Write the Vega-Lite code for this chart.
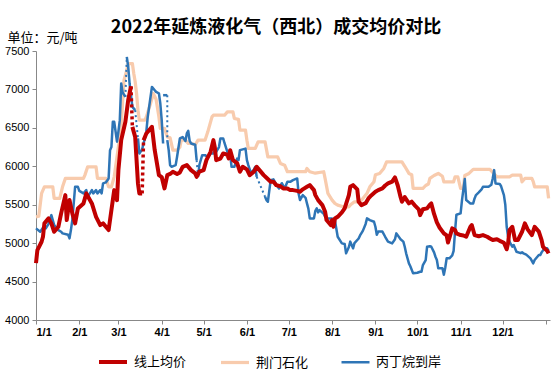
{
"$schema": "https://vega.github.io/schema/vega-lite/v6.json",
"width": 514, "height": 269,
"autosize": "none",
"padding": {"left": 36, "top": 51, "right": 2, "bottom": 56},
"title": {"text": "2022年延炼液化气（西北）成交均价对比", "fontSize": 18, "font": "Noto Sans CJK SC", "fontWeight": "bold", "color": "#000", "anchor": "middle", "frame": "group", "dx": -17, "dy": 26, "offset": 20},
"config": {
  "view": {"stroke": null},
  "font": "Noto Sans CJK SC",
  "legend": {"orient": "none", "legendX": 61, "legendY": 295, "direction": "horizontal", "symbolType": "stroke", "symbolSize": 784, "labelFontSize": 13, "labelFont": "Noto Sans CJK SC", "labelColor": "#000", "columnPadding": 27, "labelOffset": 5, "title": null}
},
"datasets": {
"lines": [
{"s":"线上均价","d":"2022-01-01","v":4740,"p":1},{"s":"线上均价","d":"2022-01-02","v":4910,"p":1},{"s":"线上均价","d":"2022-01-05","v":5018,"p":1},{"s":"线上均价","d":"2022-01-06","v":5083,"p":1},{"s":"线上均价","d":"2022-01-07","v":5257,"p":1},{"s":"线上均价","d":"2022-01-10","v":5322,"p":1},{"s":"线上均价","d":"2022-01-12","v":5257,"p":1},{"s":"线上均价","d":"2022-01-14","v":5148,"p":1},{"s":"线上均价","d":"2022-01-17","v":5213,"p":1},{"s":"线上均价","d":"2022-01-19","v":5387,"p":1},{"s":"线上均价","d":"2022-01-22","v":5625,"p":1},{"s":"线上均价","d":"2022-01-23","v":5300,"p":1},{"s":"线上均价","d":"2022-01-25","v":5560,"p":1},{"s":"线上均价","d":"2022-01-27","v":5387,"p":1},{"s":"线上均价","d":"2022-01-29","v":5257,"p":1},{"s":"线上均价","d":"2022-01-31","v":5452,"p":1},{"s":"线上均价","d":"2022-02-04","v":5517,"p":1},{"s":"线上均价","d":"2022-02-06","v":5647,"p":1},{"s":"线上均价","d":"2022-02-10","v":5517,"p":1},{"s":"线上均价","d":"2022-02-13","v":5343,"p":1},{"s":"线上均价","d":"2022-02-16","v":5235,"p":1},{"s":"线上均价","d":"2022-02-18","v":5257,"p":1},{"s":"线上均价","d":"2022-02-22","v":5170,"p":1},{"s":"线上均价","d":"2022-02-24","v":5430,"p":1},{"s":"线上均价","d":"2022-02-26","v":5690,"p":1},{"s":"线上均价","d":"2022-02-28","v":5560,"p":1},{"s":"线上均价","d":"2022-03-01","v":5950,"p":1},{"s":"线上均价","d":"2022-03-03","v":6340,"p":1},{"s":"线上均价","d":"2022-03-06","v":6580,"p":1},{"s":"线上均价","d":"2022-03-08","v":6860,"p":1},{"s":"线上均价","d":"2022-03-10","v":7040,"p":1},
{"s":"线上均价","d":"2022-03-11","v":6513,"p":2},{"s":"线上均价","d":"2022-03-13","v":6383,"p":2},{"s":"线上均价","d":"2022-03-14","v":6080,"p":2},{"s":"线上均价","d":"2022-03-15","v":5777,"p":2},{"s":"线上均价","d":"2022-03-16","v":5647,"p":2},{"s":"线上均价","d":"2022-03-18","v":5647,"p":2},
{"s":"线上均价","d":"2022-03-19","v":6340,"p":3},{"s":"线上均价","d":"2022-03-21","v":6427,"p":3},{"s":"线上均价","d":"2022-03-25","v":6513,"p":3},{"s":"线上均价","d":"2022-03-27","v":6210,"p":3},{"s":"线上均价","d":"2022-03-30","v":5885,"p":3},{"s":"线上均价","d":"2022-04-01","v":5860,"p":3},{"s":"线上均价","d":"2022-04-03","v":5712,"p":3},{"s":"线上均价","d":"2022-04-05","v":5885,"p":3},{"s":"线上均价","d":"2022-04-07","v":5900,"p":3},{"s":"线上均价","d":"2022-04-09","v":5929,"p":3},{"s":"线上均价","d":"2022-04-12","v":5900,"p":3},{"s":"线上均价","d":"2022-04-14","v":5920,"p":3},{"s":"线上均价","d":"2022-04-16","v":5993,"p":3},{"s":"线上均价","d":"2022-04-19","v":6015,"p":3},{"s":"线上均价","d":"2022-04-22","v":5950,"p":3},{"s":"线上均价","d":"2022-04-25","v":5907,"p":3},{"s":"线上均价","d":"2022-04-26","v":5863,"p":3},{"s":"线上均价","d":"2022-04-28","v":5930,"p":3},{"s":"线上均价","d":"2022-05-01","v":5950,"p":3},{"s":"线上均价","d":"2022-05-03","v":6080,"p":3},{"s":"线上均价","d":"2022-05-06","v":6188,"p":3},{"s":"线上均价","d":"2022-05-08","v":6340,"p":3},{"s":"线上均价","d":"2022-05-09","v":6250,"p":3},{"s":"线上均价","d":"2022-05-10","v":6080,"p":3},{"s":"线上均价","d":"2022-05-13","v":6100,"p":3},{"s":"线上均价","d":"2022-05-15","v":6167,"p":3},{"s":"线上均价","d":"2022-05-18","v":6150,"p":3},{"s":"线上均价","d":"2022-05-19","v":6102,"p":3},{"s":"线上均价","d":"2022-05-20","v":6210,"p":3},{"s":"线上均价","d":"2022-05-22","v":6080,"p":3},{"s":"线上均价","d":"2022-05-25","v":6040,"p":3},{"s":"线上均价","d":"2022-05-27","v":5929,"p":3},{"s":"线上均价","d":"2022-05-29","v":5993,"p":3},{"s":"线上均价","d":"2022-06-01","v":5960,"p":3},{"s":"线上均价","d":"2022-06-03","v":5885,"p":3},{"s":"线上均价","d":"2022-06-06","v":5930,"p":3},{"s":"线上均价","d":"2022-06-08","v":5993,"p":3},{"s":"线上均价","d":"2022-06-10","v":5950,"p":3},{"s":"线上均价","d":"2022-06-13","v":5885,"p":3},{"s":"线上均价","d":"2022-06-15","v":5850,"p":3},{"s":"线上均价","d":"2022-06-18","v":5798,"p":3},{"s":"线上均价","d":"2022-06-20","v":5798,"p":3},{"s":"线上均价","d":"2022-06-22","v":5755,"p":3},{"s":"线上均价","d":"2022-06-25","v":5740,"p":3},{"s":"线上均价","d":"2022-06-27","v":5712,"p":3},{"s":"线上均价","d":"2022-06-30","v":5712,"p":3},{"s":"线上均价","d":"2022-07-02","v":5690,"p":3},{"s":"线上均价","d":"2022-07-04","v":5690,"p":3},{"s":"线上均价","d":"2022-07-07","v":5680,"p":3},{"s":"线上均价","d":"2022-07-09","v":5668,"p":3},{"s":"线上均价","d":"2022-07-11","v":5700,"p":3},{"s":"线上均价","d":"2022-07-14","v":5733,"p":3},{"s":"线上均价","d":"2022-07-16","v":5755,"p":3},{"s":"线上均价","d":"2022-07-19","v":5690,"p":3},{"s":"线上均价","d":"2022-07-20","v":5625,"p":3},{"s":"线上均价","d":"2022-07-22","v":5560,"p":3},{"s":"线上均价","d":"2022-07-25","v":5495,"p":3},{"s":"线上均价","d":"2022-07-27","v":5408,"p":3},{"s":"线上均价","d":"2022-07-28","v":5300,"p":3},{"s":"线上均价","d":"2022-07-31","v":5235,"p":3},{"s":"线上均价","d":"2022-08-01","v":5300,"p":3},{"s":"线上均价","d":"2022-08-02","v":5213,"p":3},{"s":"线上均价","d":"2022-08-03","v":5320,"p":3},{"s":"线上均价","d":"2022-08-05","v":5343,"p":3},{"s":"线上均价","d":"2022-08-08","v":5400,"p":3},{"s":"线上均价","d":"2022-08-10","v":5452,"p":3},{"s":"线上均价","d":"2022-08-13","v":5625,"p":3},{"s":"线上均价","d":"2022-08-14","v":5733,"p":3},{"s":"线上均价","d":"2022-08-16","v":5755,"p":3},{"s":"线上均价","d":"2022-08-19","v":5700,"p":3},{"s":"线上均价","d":"2022-08-20","v":5538,"p":3},{"s":"线上均价","d":"2022-08-22","v":5495,"p":3},{"s":"线上均价","d":"2022-08-25","v":5520,"p":3},{"s":"线上均价","d":"2022-08-27","v":5582,"p":3},{"s":"线上均价","d":"2022-08-29","v":5620,"p":3},{"s":"线上均价","d":"2022-09-01","v":5668,"p":3},{"s":"线上均价","d":"2022-09-03","v":5690,"p":3},{"s":"线上均价","d":"2022-09-06","v":5712,"p":3},{"s":"线上均价","d":"2022-09-08","v":5750,"p":3},{"s":"线上均价","d":"2022-09-10","v":5777,"p":3},{"s":"线上均价","d":"2022-09-13","v":5800,"p":3},{"s":"线上均价","d":"2022-09-15","v":5855,"p":3},{"s":"线上均价","d":"2022-09-17","v":5750,"p":3},{"s":"线上均价","d":"2022-09-19","v":5600,"p":3},{"s":"线上均价","d":"2022-09-20","v":5538,"p":3},{"s":"线上均价","d":"2022-09-22","v":5600,"p":3},{"s":"线上均价","d":"2022-09-25","v":5517,"p":3},{"s":"线上均价","d":"2022-09-27","v":5540,"p":3},{"s":"线上均价","d":"2022-09-29","v":5495,"p":3},{"s":"线上均价","d":"2022-10-02","v":5440,"p":3},{"s":"线上均价","d":"2022-10-03","v":5365,"p":3},{"s":"线上均价","d":"2022-10-05","v":5440,"p":3},{"s":"线上均价","d":"2022-10-08","v":5452,"p":3},{"s":"线上均价","d":"2022-10-10","v":5500,"p":3},{"s":"线上均价","d":"2022-10-11","v":5517,"p":3},{"s":"线上均价","d":"2022-10-13","v":5380,"p":3},{"s":"线上均价","d":"2022-10-15","v":5270,"p":3},{"s":"线上均价","d":"2022-10-17","v":5200,"p":3},{"s":"线上均价","d":"2022-10-20","v":5127,"p":3},{"s":"线上均价","d":"2022-10-22","v":5100,"p":3},{"s":"线上均价","d":"2022-10-23","v":5008,"p":3},{"s":"线上均价","d":"2022-10-26","v":5192,"p":3},{"s":"线上均价","d":"2022-10-28","v":5170,"p":3},{"s":"线上均价","d":"2022-10-29","v":5127,"p":3},{"s":"线上均价","d":"2022-11-01","v":5105,"p":3},{"s":"线上均价","d":"2022-11-03","v":5100,"p":3},{"s":"线上均价","d":"2022-11-05","v":5083,"p":3},{"s":"线上均价","d":"2022-11-08","v":5213,"p":3},{"s":"线上均价","d":"2022-11-09","v":5235,"p":3},{"s":"线上均价","d":"2022-11-11","v":5105,"p":3},{"s":"线上均价","d":"2022-11-14","v":5090,"p":3},{"s":"线上均价","d":"2022-11-17","v":5105,"p":3},{"s":"线上均价","d":"2022-11-20","v":5083,"p":3},{"s":"线上均价","d":"2022-11-22","v":5060,"p":3},{"s":"线上均价","d":"2022-11-24","v":5040,"p":3},{"s":"线上均价","d":"2022-11-27","v":5050,"p":3},{"s":"线上均价","d":"2022-11-29","v":5030,"p":3},{"s":"线上均价","d":"2022-12-02","v":5005,"p":3},{"s":"线上均价","d":"2022-12-04","v":4920,"p":3},{"s":"线上均价","d":"2022-12-05","v":5000,"p":3},{"s":"线上均价","d":"2022-12-06","v":5170,"p":3},{"s":"线上均价","d":"2022-12-08","v":5213,"p":3},{"s":"线上均价","d":"2022-12-10","v":5040,"p":3},{"s":"线上均价","d":"2022-12-12","v":5040,"p":3},{"s":"线上均价","d":"2022-12-15","v":5148,"p":3},{"s":"线上均价","d":"2022-12-17","v":5257,"p":3},{"s":"线上均价","d":"2022-12-19","v":5180,"p":3},{"s":"线上均价","d":"2022-12-22","v":5105,"p":3},{"s":"线上均价","d":"2022-12-24","v":5213,"p":3},{"s":"线上均价","d":"2022-12-27","v":5150,"p":3},{"s":"线上均价","d":"2022-12-29","v":5040,"p":3},{"s":"线上均价","d":"2022-12-30","v":4953,"p":3},{"s":"线上均价","d":"2022-12-31","v":4932,"p":3},{"s":"线上均价","d":"2023-01-02","v":4900,"p":3},{"s":"线上均价","d":"2023-01-03","v":4867,"p":3},
{"s":"荆门石化","d":"2022-01-01","v":5343,"p":1},{"s":"荆门石化","d":"2022-01-03","v":5350,"p":1},{"s":"荆门石化","d":"2022-01-05","v":5647,"p":1},{"s":"荆门石化","d":"2022-01-07","v":5733,"p":1},{"s":"荆门石化","d":"2022-01-13","v":5733,"p":1},{"s":"荆门石化","d":"2022-01-14","v":5582,"p":1},{"s":"荆门石化","d":"2022-01-18","v":5582,"p":1},{"s":"荆门石化","d":"2022-01-20","v":5733,"p":1},{"s":"荆门石化","d":"2022-01-22","v":5842,"p":1},{"s":"荆门石化","d":"2022-02-04","v":5842,"p":1},{"s":"荆门石化","d":"2022-02-05","v":5885,"p":1},{"s":"荆门石化","d":"2022-02-07","v":5993,"p":1},{"s":"荆门石化","d":"2022-02-13","v":5993,"p":1},{"s":"荆门石化","d":"2022-02-14","v":5842,"p":1},{"s":"荆门石化","d":"2022-02-20","v":5842,"p":1},{"s":"荆门石化","d":"2022-02-22","v":5733,"p":1},{"s":"荆门石化","d":"2022-02-24","v":5733,"p":1},{"s":"荆门石化","d":"2022-02-26","v":5863,"p":1},{"s":"荆门石化","d":"2022-03-01","v":6253,"p":1},{"s":"荆门石化","d":"2022-03-03","v":6513,"p":1},{"s":"荆门石化","d":"2022-03-04","v":6838,"p":1},{"s":"荆门石化","d":"2022-03-05","v":7120,"p":1},{"s":"荆门石化","d":"2022-03-07","v":7250,"p":1},{"s":"荆门石化","d":"2022-03-08","v":7337,"p":1},{"s":"荆门石化","d":"2022-03-11","v":7337,"p":1},{"s":"荆门石化","d":"2022-03-12","v":7207,"p":1},{"s":"荆门石化","d":"2022-03-13","v":7100,"p":1},{"s":"荆门石化","d":"2022-03-14","v":6947,"p":1},{"s":"荆门石化","d":"2022-03-15","v":6730,"p":1},{"s":"荆门石化","d":"2022-03-16","v":6600,"p":1},{"s":"荆门石化","d":"2022-03-20","v":6600,"p":1},{"s":"荆门石化","d":"2022-03-21","v":6643,"p":1},{"s":"荆门石化","d":"2022-03-24","v":6817,"p":1},{"s":"荆门石化","d":"2022-03-26","v":6947,"p":1},{"s":"荆门石化","d":"2022-03-28","v":6870,"p":1},{"s":"荆门石化","d":"2022-03-30","v":6643,"p":1},{"s":"荆门石化","d":"2022-03-31","v":6492,"p":1},{"s":"荆门石化","d":"2022-04-03","v":6492,"p":1},{"s":"荆门石化","d":"2022-04-05","v":6383,"p":1},{"s":"荆门石化","d":"2022-04-07","v":6370,"p":1},{"s":"荆门石化","d":"2022-04-09","v":6210,"p":1},{"s":"荆门石化","d":"2022-04-12","v":6210,"p":1},{"s":"荆门石化","d":"2022-04-14","v":6250,"p":1},{"s":"荆门石化","d":"2022-04-15","v":6340,"p":1},{"s":"荆门石化","d":"2022-04-18","v":6340,"p":1},{"s":"荆门石化","d":"2022-04-20","v":6297,"p":1},{"s":"荆门石化","d":"2022-04-22","v":6297,"p":1},{"s":"荆门石化","d":"2022-04-25","v":6280,"p":1},{"s":"荆门石化","d":"2022-04-27","v":6340,"p":1},{"s":"荆门石化","d":"2022-05-02","v":6340,"p":1},{"s":"荆门石化","d":"2022-05-04","v":6448,"p":1},{"s":"荆门石化","d":"2022-05-07","v":6643,"p":1},{"s":"荆门石化","d":"2022-05-08","v":6665,"p":1},{"s":"荆门石化","d":"2022-05-16","v":6665,"p":1},{"s":"荆门石化","d":"2022-05-18","v":6708,"p":1},{"s":"荆门石化","d":"2022-05-22","v":6708,"p":1},{"s":"荆门石化","d":"2022-05-23","v":6622,"p":1},{"s":"荆门石化","d":"2022-05-26","v":6610,"p":1},{"s":"荆门石化","d":"2022-05-27","v":6470,"p":1},{"s":"荆门石化","d":"2022-05-31","v":6470,"p":1},{"s":"荆门石化","d":"2022-06-01","v":6340,"p":1},{"s":"荆门石化","d":"2022-06-02","v":6232,"p":1},{"s":"荆门石化","d":"2022-06-07","v":6232,"p":1},{"s":"荆门石化","d":"2022-06-09","v":6318,"p":1},{"s":"荆门石化","d":"2022-06-14","v":6318,"p":1},{"s":"荆门石化","d":"2022-06-16","v":6123,"p":1},{"s":"荆门石化","d":"2022-06-23","v":6123,"p":1},{"s":"荆门石化","d":"2022-06-25","v":6037,"p":1},{"s":"荆门石化","d":"2022-06-28","v":6015,"p":1},{"s":"荆门石化","d":"2022-06-30","v":5929,"p":1},{"s":"荆门石化","d":"2022-07-13","v":5929,"p":1},{"s":"荆门石化","d":"2022-07-14","v":5972,"p":1},{"s":"荆门石化","d":"2022-07-16","v":5929,"p":1},{"s":"荆门石化","d":"2022-07-20","v":5910,"p":1},{"s":"荆门石化","d":"2022-07-26","v":5929,"p":1},{"s":"荆门石化","d":"2022-07-27","v":5840,"p":1},{"s":"荆门石化","d":"2022-07-29","v":5647,"p":1},{"s":"荆门石化","d":"2022-08-01","v":5560,"p":1},{"s":"荆门石化","d":"2022-08-03","v":5517,"p":1},{"s":"荆门石化","d":"2022-08-05","v":5495,"p":1},{"s":"荆门石化","d":"2022-08-09","v":5473,"p":1},{"s":"荆门石化","d":"2022-08-13","v":5473,"p":1},{"s":"荆门石化","d":"2022-08-14","v":5495,"p":1},{"s":"荆门石化","d":"2022-08-17","v":5538,"p":1},{"s":"荆门石化","d":"2022-08-21","v":5538,"p":1},{"s":"荆门石化","d":"2022-08-23","v":5582,"p":1},{"s":"荆门石化","d":"2022-08-26","v":5647,"p":1},{"s":"荆门石化","d":"2022-08-28","v":5733,"p":1},{"s":"荆门石化","d":"2022-08-31","v":5800,"p":1},{"s":"荆门石化","d":"2022-09-01","v":5890,"p":1},{"s":"荆门石化","d":"2022-09-04","v":5907,"p":1},{"s":"荆门石化","d":"2022-09-07","v":5972,"p":1},{"s":"荆门石化","d":"2022-09-09","v":6058,"p":1},{"s":"荆门石化","d":"2022-09-20","v":6058,"p":1},{"s":"荆门石化","d":"2022-09-22","v":6000,"p":1},{"s":"荆门石化","d":"2022-09-25","v":5907,"p":1},{"s":"荆门石化","d":"2022-09-27","v":5890,"p":1},{"s":"荆门石化","d":"2022-09-28","v":5712,"p":1},{"s":"荆门石化","d":"2022-10-05","v":5712,"p":1},{"s":"荆门石化","d":"2022-10-07","v":5750,"p":1},{"s":"荆门石化","d":"2022-10-09","v":5770,"p":1},{"s":"荆门石化","d":"2022-10-10","v":5842,"p":1},{"s":"荆门石化","d":"2022-10-13","v":5880,"p":1},{"s":"荆门石化","d":"2022-10-16","v":5907,"p":1},{"s":"荆门石化","d":"2022-10-19","v":5870,"p":1},{"s":"荆门石化","d":"2022-10-20","v":5798,"p":1},{"s":"荆门石化","d":"2022-10-27","v":5798,"p":1},{"s":"荆门石化","d":"2022-10-28","v":5863,"p":1},{"s":"荆门石化","d":"2022-10-30","v":5863,"p":1},{"s":"荆门石化","d":"2022-11-01","v":5712,"p":1},{"s":"荆门石化","d":"2022-11-03","v":5712,"p":1},{"s":"荆门石化","d":"2022-11-04","v":5880,"p":1},{"s":"荆门石化","d":"2022-11-07","v":5907,"p":1},{"s":"荆门石化","d":"2022-11-10","v":5959,"p":1},{"s":"荆门石化","d":"2022-11-22","v":5959,"p":1},{"s":"荆门石化","d":"2022-11-24","v":5920,"p":1},{"s":"荆门石化","d":"2022-11-27","v":5863,"p":1},{"s":"荆门石化","d":"2022-12-06","v":5863,"p":1},{"s":"荆门石化","d":"2022-12-08","v":5885,"p":1},{"s":"荆门石化","d":"2022-12-14","v":5885,"p":1},{"s":"荆门石化","d":"2022-12-15","v":5798,"p":1},{"s":"荆门石化","d":"2022-12-17","v":5842,"p":1},{"s":"荆门石化","d":"2022-12-22","v":5842,"p":1},{"s":"荆门石化","d":"2022-12-23","v":5800,"p":1},{"s":"荆门石化","d":"2022-12-24","v":5733,"p":1},{"s":"荆门石化","d":"2023-01-02","v":5733,"p":1},{"s":"荆门石化","d":"2023-01-03","v":5582,"p":1},
{"s":"丙丁烷到岸","d":"2022-01-01","v":5192,"p":1},{"s":"丙丁烷到岸","d":"2022-01-04","v":5148,"p":1},{"s":"丙丁烷到岸","d":"2022-01-06","v":5200,"p":1},{"s":"丙丁烷到岸","d":"2022-01-08","v":5192,"p":1},{"s":"丙丁烷到岸","d":"2022-01-10","v":5250,"p":1},{"s":"丙丁烷到岸","d":"2022-01-12","v":5365,"p":1},{"s":"丙丁烷到岸","d":"2022-01-13","v":5300,"p":1},{"s":"丙丁烷到岸","d":"2022-01-14","v":5235,"p":1},{"s":"丙丁烷到岸","d":"2022-01-17","v":5170,"p":1},{"s":"丙丁烷到岸","d":"2022-01-19","v":5148,"p":1},{"s":"丙丁烷到岸","d":"2022-01-20","v":5127,"p":1},{"s":"丙丁烷到岸","d":"2022-01-24","v":5110,"p":1},{"s":"丙丁烷到岸","d":"2022-01-25","v":5062,"p":1},{"s":"丙丁烷到岸","d":"2022-01-26","v":5170,"p":1},{"s":"丙丁烷到岸","d":"2022-01-27","v":5300,"p":1},{"s":"丙丁烷到岸","d":"2022-01-29","v":5733,"p":1},{"s":"丙丁烷到岸","d":"2022-01-31","v":5733,"p":1},{"s":"丙丁烷到岸","d":"2022-02-01","v":5680,"p":1},{"s":"丙丁烷到岸","d":"2022-02-04","v":5647,"p":1},{"s":"丙丁烷到岸","d":"2022-02-06","v":5690,"p":1},{"s":"丙丁烷到岸","d":"2022-02-07","v":5603,"p":1},{"s":"丙丁烷到岸","d":"2022-02-10","v":5690,"p":1},{"s":"丙丁烷到岸","d":"2022-02-11","v":5647,"p":1},{"s":"丙丁烷到岸","d":"2022-02-13","v":5690,"p":1},{"s":"丙丁烷到岸","d":"2022-02-14","v":5647,"p":1},{"s":"丙丁烷到岸","d":"2022-02-16","v":5690,"p":1},{"s":"丙丁烷到岸","d":"2022-02-17","v":5647,"p":1},{"s":"丙丁烷到岸","d":"2022-02-18","v":5777,"p":1},{"s":"丙丁烷到岸","d":"2022-02-20","v":5790,"p":1},{"s":"丙丁烷到岸","d":"2022-02-22","v":5842,"p":1},{"s":"丙丁烷到岸","d":"2022-02-23","v":6210,"p":1},{"s":"丙丁烷到岸","d":"2022-02-24","v":6250,"p":1},{"s":"丙丁烷到岸","d":"2022-02-25","v":6578,"p":1},{"s":"丙丁烷到岸","d":"2022-02-26","v":6578,"p":1},{"s":"丙丁烷到岸","d":"2022-02-28","v":6320,"p":1},{"s":"丙丁烷到岸","d":"2022-03-01","v":6450,"p":1},{"s":"丙丁烷到岸","d":"2022-03-02","v":6600,"p":1},{"s":"丙丁烷到岸","d":"2022-03-03","v":7077,"p":1},{"s":"丙丁烷到岸","d":"2022-03-04","v":6960,"p":1},{"s":"丙丁烷到岸","d":"2022-03-06","v":6903,"p":1},
{"s":"丙丁烷到岸","d":"2022-03-07","v":7423,"p":2},{"s":"丙丁烷到岸","d":"2022-03-08","v":7300,"p":2},{"s":"丙丁烷到岸","d":"2022-03-09","v":7077,"p":2},{"s":"丙丁烷到岸","d":"2022-03-11","v":6773,"p":2},{"s":"丙丁烷到岸","d":"2022-03-13","v":6730,"p":2},
{"s":"丙丁烷到岸","d":"2022-03-15","v":6362,"p":3},{"s":"丙丁烷到岸","d":"2022-03-16","v":6167,"p":3},{"s":"丙丁烷到岸","d":"2022-03-18","v":6220,"p":3},{"s":"丙丁烷到岸","d":"2022-03-19","v":6300,"p":3},{"s":"丙丁烷到岸","d":"2022-03-20","v":6362,"p":3},{"s":"丙丁烷到岸","d":"2022-03-21","v":6450,"p":3},{"s":"丙丁烷到岸","d":"2022-03-22","v":6643,"p":3},{"s":"丙丁烷到岸","d":"2022-03-25","v":7033,"p":3},{"s":"丙丁烷到岸","d":"2022-03-27","v":6990,"p":3},{"s":"丙丁烷到岸","d":"2022-03-28","v":6968,"p":3},{"s":"丙丁烷到岸","d":"2022-03-30","v":6950,"p":3},{"s":"丙丁烷到岸","d":"2022-03-31","v":6817,"p":3},{"s":"丙丁烷到岸","d":"2022-04-01","v":6600,"p":3},{"s":"丙丁烷到岸","d":"2022-04-02","v":6297,"p":3},
{"s":"丙丁烷到岸","d":"2022-04-02","v":6925,"p":4},{"s":"丙丁烷到岸","d":"2022-04-05","v":6925,"p":4},
{"s":"丙丁烷到岸","d":"2022-04-05","v":6340,"p":5},{"s":"丙丁烷到岸","d":"2022-04-06","v":6210,"p":5},{"s":"丙丁烷到岸","d":"2022-04-07","v":6015,"p":5},{"s":"丙丁烷到岸","d":"2022-04-08","v":5993,"p":5},{"s":"丙丁烷到岸","d":"2022-04-11","v":6015,"p":5},{"s":"丙丁烷到岸","d":"2022-04-12","v":6123,"p":5},{"s":"丙丁烷到岸","d":"2022-04-14","v":6362,"p":5},{"s":"丙丁烷到岸","d":"2022-04-16","v":6380,"p":5},{"s":"丙丁烷到岸","d":"2022-04-18","v":6330,"p":5},{"s":"丙丁烷到岸","d":"2022-04-19","v":6427,"p":5},{"s":"丙丁烷到岸","d":"2022-04-20","v":6460,"p":5},{"s":"丙丁烷到岸","d":"2022-04-21","v":6330,"p":5},{"s":"丙丁烷到岸","d":"2022-04-22","v":6297,"p":5},{"s":"丙丁烷到岸","d":"2022-04-25","v":6280,"p":5},{"s":"丙丁烷到岸","d":"2022-04-26","v":6080,"p":5},
{"s":"丙丁烷到岸","d":"2022-04-27","v":5863,"p":6},{"s":"丙丁烷到岸","d":"2022-04-28","v":6020,"p":6},{"s":"丙丁烷到岸","d":"2022-04-30","v":6145,"p":6},{"s":"丙丁烷到岸","d":"2022-05-02","v":6145,"p":6},{"s":"丙丁烷到岸","d":"2022-05-04","v":6120,"p":6},{"s":"丙丁烷到岸","d":"2022-05-06","v":6167,"p":6},{"s":"丙丁烷到岸","d":"2022-05-08","v":6167,"p":6},{"s":"丙丁烷到岸","d":"2022-05-09","v":6210,"p":6},{"s":"丙丁烷到岸","d":"2022-05-10","v":6188,"p":6},{"s":"丙丁烷到岸","d":"2022-05-12","v":6250,"p":6},{"s":"丙丁烷到岸","d":"2022-05-13","v":6362,"p":6},{"s":"丙丁烷到岸","d":"2022-05-15","v":6362,"p":6},{"s":"丙丁烷到岸","d":"2022-05-16","v":6300,"p":6},{"s":"丙丁烷到岸","d":"2022-05-18","v":6188,"p":6},{"s":"丙丁烷到岸","d":"2022-05-20","v":6167,"p":6},{"s":"丙丁烷到岸","d":"2022-05-21","v":5993,"p":6},{"s":"丙丁烷到岸","d":"2022-05-23","v":5993,"p":6},{"s":"丙丁烷到岸","d":"2022-05-25","v":6100,"p":6},{"s":"丙丁烷到岸","d":"2022-05-26","v":6080,"p":6},{"s":"丙丁烷到岸","d":"2022-05-27","v":6210,"p":6},{"s":"丙丁烷到岸","d":"2022-05-31","v":6230,"p":6},{"s":"丙丁烷到岸","d":"2022-06-01","v":6080,"p":6},{"s":"丙丁烷到岸","d":"2022-06-02","v":6015,"p":6},{"s":"丙丁烷到岸","d":"2022-06-04","v":5907,"p":6},{"s":"丙丁烷到岸","d":"2022-06-06","v":5960,"p":6},{"s":"丙丁烷到岸","d":"2022-06-07","v":5993,"p":6},{"s":"丙丁烷到岸","d":"2022-06-08","v":5863,"p":6},
{"s":"丙丁烷到岸","d":"2022-06-14","v":5603,"p":7},{"s":"丙丁烷到岸","d":"2022-06-15","v":5560,"p":7},{"s":"丙丁烷到岸","d":"2022-06-16","v":5538,"p":7},{"s":"丙丁烷到岸","d":"2022-06-18","v":5820,"p":7},{"s":"丙丁烷到岸","d":"2022-06-20","v":5830,"p":7},{"s":"丙丁烷到岸","d":"2022-06-21","v":5798,"p":7},{"s":"丙丁烷到岸","d":"2022-06-22","v":5760,"p":7},{"s":"丙丁烷到岸","d":"2022-06-24","v":5712,"p":7},{"s":"丙丁烷到岸","d":"2022-06-26","v":5780,"p":7},{"s":"丙丁烷到岸","d":"2022-06-28","v":5712,"p":7},{"s":"丙丁烷到岸","d":"2022-06-30","v":5798,"p":7},{"s":"丙丁烷到岸","d":"2022-07-02","v":5798,"p":7},{"s":"丙丁烷到岸","d":"2022-07-04","v":5820,"p":7},{"s":"丙丁烷到岸","d":"2022-07-07","v":5842,"p":7},{"s":"丙丁烷到岸","d":"2022-07-08","v":5647,"p":7},{"s":"丙丁烷到岸","d":"2022-07-09","v":5560,"p":7},{"s":"丙丁烷到岸","d":"2022-07-11","v":5625,"p":7},{"s":"丙丁烷到岸","d":"2022-07-13","v":5590,"p":7},{"s":"丙丁烷到岸","d":"2022-07-14","v":5517,"p":7},{"s":"丙丁烷到岸","d":"2022-07-15","v":5450,"p":7},{"s":"丙丁烷到岸","d":"2022-07-16","v":5322,"p":7},{"s":"丙丁烷到岸","d":"2022-07-19","v":5322,"p":7},{"s":"丙丁烷到岸","d":"2022-07-20","v":5420,"p":7},{"s":"丙丁烷到岸","d":"2022-07-21","v":5452,"p":7},{"s":"丙丁烷到岸","d":"2022-07-22","v":5400,"p":7},{"s":"丙丁烷到岸","d":"2022-07-23","v":5430,"p":7},{"s":"丙丁烷到岸","d":"2022-07-26","v":5380,"p":7},{"s":"丙丁烷到岸","d":"2022-07-27","v":5343,"p":7},{"s":"丙丁烷到岸","d":"2022-07-29","v":5320,"p":7},{"s":"丙丁烷到岸","d":"2022-08-01","v":5320,"p":7},{"s":"丙丁烷到岸","d":"2022-08-02","v":5278,"p":7},{"s":"丙丁烷到岸","d":"2022-08-03","v":5300,"p":7},{"s":"丙丁烷到岸","d":"2022-08-04","v":5190,"p":7},{"s":"丙丁烷到岸","d":"2022-08-05","v":5083,"p":7},{"s":"丙丁烷到岸","d":"2022-08-08","v":4997,"p":7},{"s":"丙丁烷到岸","d":"2022-08-10","v":4990,"p":7},{"s":"丙丁烷到岸","d":"2022-08-11","v":4867,"p":7},{"s":"丙丁烷到岸","d":"2022-08-13","v":4950,"p":7},{"s":"丙丁烷到岸","d":"2022-08-14","v":5020,"p":7},{"s":"丙丁烷到岸","d":"2022-08-15","v":4975,"p":7},{"s":"丙丁烷到岸","d":"2022-08-16","v":4932,"p":7},{"s":"丙丁烷到岸","d":"2022-08-17","v":5000,"p":7},{"s":"丙丁烷到岸","d":"2022-08-20","v":5060,"p":7},{"s":"丙丁烷到岸","d":"2022-08-21","v":5100,"p":7},{"s":"丙丁烷到岸","d":"2022-08-23","v":5160,"p":7},{"s":"丙丁烷到岸","d":"2022-08-25","v":5250,"p":7},{"s":"丙丁烷到岸","d":"2022-08-26","v":5322,"p":7},{"s":"丙丁烷到岸","d":"2022-08-28","v":5300,"p":7},{"s":"丙丁烷到岸","d":"2022-08-31","v":5278,"p":7},{"s":"丙丁烷到岸","d":"2022-09-01","v":5213,"p":7},{"s":"丙丁烷到岸","d":"2022-09-02","v":5110,"p":7},{"s":"丙丁烷到岸","d":"2022-09-03","v":5150,"p":7},{"s":"丙丁烷到岸","d":"2022-09-06","v":5150,"p":7},{"s":"丙丁烷到岸","d":"2022-09-08","v":5083,"p":7},{"s":"丙丁烷到岸","d":"2022-09-10","v":5020,"p":7},{"s":"丙丁烷到岸","d":"2022-09-13","v":4997,"p":7},{"s":"丙丁烷到岸","d":"2022-09-15","v":5050,"p":7},{"s":"丙丁烷到岸","d":"2022-09-16","v":5127,"p":7},{"s":"丙丁烷到岸","d":"2022-09-19","v":5050,"p":7},{"s":"丙丁烷到岸","d":"2022-09-21","v":5020,"p":7},{"s":"丙丁烷到岸","d":"2022-09-22","v":4953,"p":7},{"s":"丙丁烷到岸","d":"2022-09-23","v":4867,"p":7},{"s":"丙丁烷到岸","d":"2022-09-25","v":4737,"p":7},{"s":"丙丁烷到岸","d":"2022-09-26","v":4700,"p":7},{"s":"丙丁烷到岸","d":"2022-09-28","v":4607,"p":7},{"s":"丙丁烷到岸","d":"2022-10-01","v":4615,"p":7},{"s":"丙丁烷到岸","d":"2022-10-03","v":4628,"p":7},{"s":"丙丁烷到岸","d":"2022-10-04","v":4628,"p":7},{"s":"丙丁烷到岸","d":"2022-10-05","v":4715,"p":7},{"s":"丙丁烷到岸","d":"2022-10-07","v":4780,"p":7},{"s":"丙丁烷到岸","d":"2022-10-08","v":4953,"p":7},{"s":"丙丁烷到岸","d":"2022-10-10","v":4960,"p":7},{"s":"丙丁烷到岸","d":"2022-10-11","v":4953,"p":7},{"s":"丙丁烷到岸","d":"2022-10-13","v":4880,"p":7},{"s":"丙丁烷到岸","d":"2022-10-14","v":4823,"p":7},{"s":"丙丁烷到岸","d":"2022-10-15","v":4780,"p":7},{"s":"丙丁烷到岸","d":"2022-10-16","v":4672,"p":7},{"s":"丙丁烷到岸","d":"2022-10-19","v":4672,"p":7},{"s":"丙丁烷到岸","d":"2022-10-20","v":4590,"p":7},{"s":"丙丁烷到岸","d":"2022-10-21","v":4680,"p":7},{"s":"丙丁烷到岸","d":"2022-10-22","v":4802,"p":7},{"s":"丙丁烷到岸","d":"2022-10-24","v":4802,"p":7},{"s":"丙丁烷到岸","d":"2022-10-26","v":4840,"p":7},{"s":"丙丁烷到岸","d":"2022-10-27","v":4900,"p":7},{"s":"丙丁烷到岸","d":"2022-10-28","v":5150,"p":7},{"s":"丙丁烷到岸","d":"2022-10-29","v":5370,"p":7},{"s":"丙丁烷到岸","d":"2022-11-01","v":5387,"p":7},{"s":"丙丁烷到岸","d":"2022-11-02","v":5560,"p":7},{"s":"丙丁烷到岸","d":"2022-11-03","v":5700,"p":7},{"s":"丙丁烷到岸","d":"2022-11-04","v":5835,"p":7},{"s":"丙丁烷到岸","d":"2022-11-05","v":5560,"p":7},{"s":"丙丁烷到岸","d":"2022-11-08","v":5517,"p":7},{"s":"丙丁烷到岸","d":"2022-11-10","v":5517,"p":7},{"s":"丙丁烷到岸","d":"2022-11-11","v":5582,"p":7},{"s":"丙丁烷到岸","d":"2022-11-12","v":5625,"p":7},{"s":"丙丁烷到岸","d":"2022-11-14","v":5660,"p":7},{"s":"丙丁烷到岸","d":"2022-11-16","v":5700,"p":7},{"s":"丙丁烷到岸","d":"2022-11-17","v":5733,"p":7},{"s":"丙丁烷到岸","d":"2022-11-21","v":5733,"p":7},{"s":"丙丁烷到岸","d":"2022-11-23","v":5760,"p":7},{"s":"丙丁烷到岸","d":"2022-11-24","v":5842,"p":7},{"s":"丙丁烷到岸","d":"2022-11-25","v":5950,"p":7},{"s":"丙丁烷到岸","d":"2022-11-26","v":5777,"p":7},{"s":"丙丁烷到岸","d":"2022-11-29","v":5770,"p":7},{"s":"丙丁烷到岸","d":"2022-11-30","v":5740,"p":7},{"s":"丙丁烷到岸","d":"2022-12-02","v":5625,"p":7},{"s":"丙丁烷到岸","d":"2022-12-03","v":5500,"p":7},{"s":"丙丁烷到岸","d":"2022-12-04","v":5213,"p":7},{"s":"丙丁烷到岸","d":"2022-12-05","v":5083,"p":7},{"s":"丙丁烷到岸","d":"2022-12-06","v":5020,"p":7},{"s":"丙丁烷到岸","d":"2022-12-08","v":4953,"p":7},{"s":"丙丁烷到岸","d":"2022-12-09","v":4975,"p":7},{"s":"丙丁烷到岸","d":"2022-12-11","v":4888,"p":7},{"s":"丙丁烷到岸","d":"2022-12-14","v":4870,"p":7},{"s":"丙丁烷到岸","d":"2022-12-15","v":4880,"p":7},{"s":"丙丁烷到岸","d":"2022-12-16","v":4867,"p":7},{"s":"丙丁烷到岸","d":"2022-12-18","v":4850,"p":7},{"s":"丙丁烷到岸","d":"2022-12-21","v":4802,"p":7},{"s":"丙丁烷到岸","d":"2022-12-23","v":4737,"p":7},{"s":"丙丁烷到岸","d":"2022-12-24","v":4780,"p":7},{"s":"丙丁烷到岸","d":"2022-12-27","v":4845,"p":7},{"s":"丙丁烷到岸","d":"2022-12-28","v":4845,"p":7},{"s":"丙丁烷到岸","d":"2022-12-29","v":4880,"p":7},{"s":"丙丁烷到岸","d":"2022-12-31","v":4932,"p":7},{"s":"丙丁烷到岸","d":"2023-01-02","v":4932,"p":7},{"s":"丙丁烷到岸","d":"2023-01-03","v":4900,"p":7}
],
"gaps": [
{"s":"线上均价","d":"2022-03-10","v":7040,"g":1},{"s":"线上均价","d":"2022-03-11","v":6513,"g":1},
{"s":"线上均价","d":"2022-03-18","v":5647,"g":2},{"s":"线上均价","d":"2022-03-19","v":6340,"g":2},
{"s":"丙丁烷到岸","d":"2022-03-06","v":6903,"g":3},{"s":"丙丁烷到岸","d":"2022-03-07","v":7423,"g":3},
{"s":"丙丁烷到岸","d":"2022-03-13","v":6730,"g":4},{"s":"丙丁烷到岸","d":"2022-03-15","v":6362,"g":4},
{"s":"丙丁烷到岸","d":"2022-04-05","v":6925,"g":5},{"s":"丙丁烷到岸","d":"2022-04-05","v":6340,"g":5},
{"s":"丙丁烷到岸","d":"2022-04-26","v":6080,"g":6},{"s":"丙丁烷到岸","d":"2022-04-27","v":5863,"g":6},
{"s":"丙丁烷到岸","d":"2022-06-08","v":5863,"g":7},{"s":"丙丁烷到岸","d":"2022-06-14","v":5603,"g":7}
]
},
"encoding": {
  "x": {"field": "d", "type": "temporal",
    "scale": {"type": "utc", "domain": [{"year": 2022, "month": 1, "date": 1, "utc": true}, {"year": 2023, "month": 1, "date": 4, "utc": true}]},
    "axis": {"title": null, "grid": false, "domainColor": "#888888", "tickColor": "#888888", "tickSize": 4, "labelPadding": 2, "labelFontSize": 11, "labelFontWeight": "bold", "labelColor": "#000", "labelFont": "Liberation Sans", "labelAngle": 0,
      "values": [{"year": 2022, "month": 1, "date": 1, "utc": true}, {"year": 2022, "month": 2, "date": 1, "utc": true}, {"year": 2022, "month": 3, "date": 1, "utc": true}, {"year": 2022, "month": 4, "date": 1, "utc": true}, {"year": 2022, "month": 5, "date": 1, "utc": true}, {"year": 2022, "month": 6, "date": 1, "utc": true}, {"year": 2022, "month": 7, "date": 1, "utc": true}, {"year": 2022, "month": 8, "date": 1, "utc": true}, {"year": 2022, "month": 9, "date": 1, "utc": true}, {"year": 2022, "month": 10, "date": 1, "utc": true}, {"year": 2022, "month": 11, "date": 1, "utc": true}, {"year": 2022, "month": 12, "date": 1, "utc": true}, {"year": 2023, "month": 1, "date": 1, "utc": true}],
      "labelExpr": "utcyear(datum.value) > 2022 ? '' : utcFormat(datum.value, '%-m/%-d')"}},
  "y": {"field": "v", "type": "quantitative",
    "scale": {"domain": [4000, 7500], "nice": false, "zero": false},
    "axis": {"values": [4000, 4500, 5000, 5500, 6000, 6500, 7000, 7500], "format": "d", "grid": false, "domainColor": "#888888", "tickColor": "#888888", "tickSize": 4, "labelPadding": 3, "labelFontSize": 11, "labelColor": "#000", "labelFont": "Liberation Sans",
      "title": "单位：元/吨", "titleAngle": 0, "titleAlign": "left", "titleBaseline": "middle", "titleX": -29, "titleY": -14, "titleFontSize": 13, "titleFontWeight": "normal", "titleFont": "Noto Sans CJK SC", "titleColor": "#000"}}
},
"layer": [
  {"data": {"name": "lines"}, "transform": [{"filter": "datum.s === '荆门石化'"}],
   "mark": {"type": "line", "strokeJoin": "round"},
   "encoding": {
     "detail": {"field": "p"},
     "color": {"field": "s", "type": "nominal", "title": null, "scale": {"domain": ["线上均价", "荆门石化", "丙丁烷到岸"], "range": ["#C00000", "#F8CBAD", "#2E75B6"]}},
     "strokeWidth": {"field": "s", "type": "nominal", "title": null, "scale": {"domain": ["线上均价", "荆门石化", "丙丁烷到岸"], "range": [4, 2.5, 2]}}}},
  {"data": {"name": "lines"}, "transform": [{"filter": "datum.s === '丙丁烷到岸'"}],
   "mark": {"type": "line", "strokeJoin": "round"},
   "encoding": {
     "detail": {"field": "p"},
     "color": {"field": "s", "type": "nominal", "title": null, "scale": {"domain": ["线上均价", "荆门石化", "丙丁烷到岸"], "range": ["#C00000", "#F8CBAD", "#2E75B6"]}},
     "strokeWidth": {"field": "s", "type": "nominal", "title": null, "scale": {"domain": ["线上均价", "荆门石化", "丙丁烷到岸"], "range": [4, 2.5, 2]}}}},
  {"data": {"name": "gaps"}, "transform": [{"filter": "datum.s === '丙丁烷到岸'"}],
   "mark": {"type": "line", "color": "#2E75B6", "strokeDash": [2, 3], "strokeWidth": 2, "strokeCap": "butt"},
   "encoding": {"detail": {"field": "g"}}},
  {"data": {"name": "lines"}, "transform": [{"filter": "datum.s === '线上均价'"}],
   "mark": {"type": "line", "strokeJoin": "round"},
   "encoding": {
     "detail": {"field": "p"},
     "color": {"field": "s", "type": "nominal", "title": null, "scale": {"domain": ["线上均价", "荆门石化", "丙丁烷到岸"], "range": ["#C00000", "#F8CBAD", "#2E75B6"]}},
     "strokeWidth": {"field": "s", "type": "nominal", "title": null, "scale": {"domain": ["线上均价", "荆门石化", "丙丁烷到岸"], "range": [4, 2.5, 2]}}}},
  {"data": {"name": "gaps"}, "transform": [{"filter": "datum.s === '线上均价'"}],
   "mark": {"type": "line", "color": "#C00000", "strokeDash": [3, 3], "strokeWidth": 3.5, "strokeCap": "butt"},
   "encoding": {"detail": {"field": "g"}}}
]
}
